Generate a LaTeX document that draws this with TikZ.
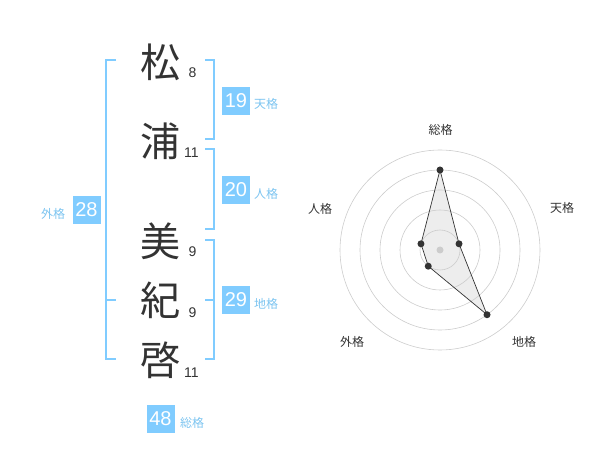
\documentclass[tikz,border=0pt]{standalone}
\usepackage{fontspec}
\usetikzlibrary{calc}
\setmainfont{Noto Sans CJK JP}
\newfontfamily\numfont{Liberation Sans}
\definecolor{kblue}{HTML}{80CCFF}
\definecolor{lblue}{HTML}{7CC4F0}
\definecolor{ink}{HTML}{333333}
\definecolor{ring}{HTML}{CCCCCC}
\begin{document}
\begin{tikzpicture}[x=1pt,y=-1pt,
  kanji/.style={text=ink,font=\fontsize{40}{40}\selectfont,inner sep=0pt},
  strokes/.style={text=ink,font=\numfont\fontsize{14}{14}\selectfont,inner sep=0pt},
  numbox/.style={fill=kblue,text=white,minimum width=28pt,minimum height=28pt,inner sep=0pt,font=\numfont\fontsize{20}{20}\selectfont},
  kaku/.style={text=lblue,font=\fontsize{12}{12}\selectfont,inner sep=0pt},
  brk/.style={draw=kblue,line width=2pt},
  rlabel/.style={text=ink,font=\fontsize{12}{12}\selectfont,inner sep=0pt},
  dot/.style={circle,fill=ink,inner sep=0pt,minimum size=7pt}]
\useasboundingbox (0,0) rectangle (600,470);
% kanji
\node[kanji] (k1) at (160,62) {松};
\node[kanji] (k2) at (160,141) {浦};
\node[kanji] (k3) at (160,241) {美};
\node[kanji] (k4) at (160,300) {紀};
\node[kanji] (k5) at (160,360) {啓};
\node[strokes] (s1) at (192.5,73) {8};
\node[strokes] (s2) at (191.5,153) {11};
\node[strokes] (s3) at (192.5,252) {9};
\node[strokes] (s4) at (192.5,313) {9};
\node[strokes] (s5) at (191.5,373) {11};
% brackets
\draw[brk] (116,60.5) -- (105.5,60.5) -- (105.5,359.5) -- (116,359.5);
\draw[brk] (105.5,300) -- (116,300);
\draw[brk] (205,60.5) -- (214,60.5) -- (214,139.5) -- (205,139.5);
\draw[brk] (205,149.5) -- (214,149.5) -- (214,229.5) -- (205,229.5);
\draw[brk] (205,240) -- (214,240) -- (214,359.5) -- (205,359.5);
\draw[brk] (205,300) -- (214,300);
% boxes
\node[numbox] (ten) at (236,101) {19};
\node[kaku] (tenl) at (266,104) {天格};
\node[numbox] (jin) at (236,190) {20};
\node[kaku] (jinl) at (266,194) {人格};
\node[numbox] (chi) at (236,300) {29};
\node[kaku] (chil) at (266,304) {地格};
\node[numbox] (gai) at (86.5,210) {28};
\node[kaku] (gail) at (53,214) {外格};
\node[numbox] (sou) at (160.5,419) {48};
\node[kaku] (soul) at (192,423) {総格};
% radar
\coordinate (c) at (440,250);
\coordinate (p1) at ($(c)+(-90:80)$);
\coordinate (p2) at ($(c)+(-18:20)$);
\coordinate (p3) at ($(c)+(54:80)$);
\coordinate (p4) at ($(c)+(126:20)$);
\coordinate (p5) at ($(c)+(198:20)$);
\fill[black!10,fill opacity=0.7] (p1) -- (p2) -- (p3) -- (p4) -- (p5) -- cycle;
\foreach \r in {20,40,60,80,100} \draw[ring,line width=0.6pt] (c) circle (\r);
\fill[ring] (c) circle (3.5);
\draw[ink,line width=0.7pt] (p1) -- (p2) -- (p3) -- (p4) -- (p5) -- cycle;
\foreach \p in {p1,p2,p3,p4,p5} \node[dot] at (\p) {};
\node[rlabel] (r1) at (440.5,130) {総格};
\node[rlabel] (r2) at (562,208) {天格};
\node[rlabel] (r3) at (524,342) {地格};
\node[rlabel] (r4) at (352,342) {外格};
\node[rlabel] (r5) at (320,209) {人格};
\end{tikzpicture}
\end{document}
